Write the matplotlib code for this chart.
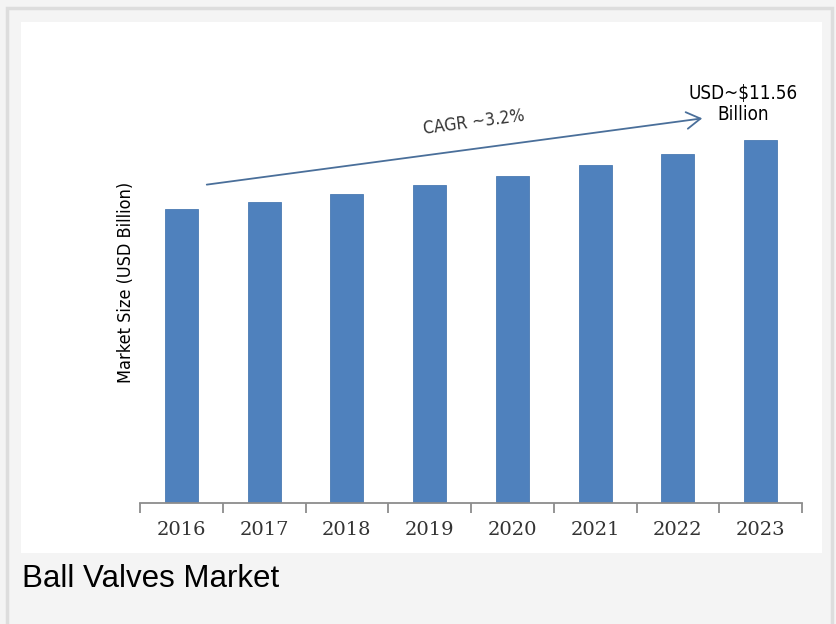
import matplotlib
matplotlib.use("Agg")
import matplotlib.pyplot as plt
from matplotlib.patches import Rectangle, FancyArrowPatch
from matplotlib import font_manager

years = ["2016", "2017", "2018", "2019", "2020", "2021", "2022", "2023"]
market_size = [9.36, 9.59, 9.84, 10.13, 10.41, 10.76, 11.12, 11.56]
cagr_label = "CAGR ~3.2%"
end_label = "USD~$11.56\nBillion"
y_label = "Market Size (USD Billion)"
caption = "Ball Valves Market"

names = {f.name for f in font_manager.fontManager.ttflist}
narrow = "Liberation Sans Narrow" if "Liberation Sans Narrow" in names else "DejaVu Sans"

W, H = 836, 624
fig = plt.figure(figsize=(W / 100, H / 100), dpi=100)
fig.patch.set_facecolor("#f4f4f4")

def fx(px):
    return px / W

def fy(py):
    return 1 - py / H

# outer border lines
fig.add_artist(Rectangle((fx(7), fy(640)), fx(832 - 7), fy(8) - fy(640),
                         transform=fig.transFigure, facecolor="#f4f4f4",
                         edgecolor="#dddddd", linewidth=2.5, zorder=-2))
# inner white panel
fig.add_artist(Rectangle((fx(21), fy(553)), fx(822 - 21), fy(22) - fy(553),
                         transform=fig.transFigure, facecolor="white",
                         edgecolor="none", zorder=-1))

ax_left, ax_right, ax_bottom, ax_top = 140, 802, 503, 60
ax = fig.add_axes([fx(ax_left), fy(ax_bottom), fx(ax_right - ax_left), fy(ax_top) - fy(ax_bottom)])
ax.set_zorder(2)
ax.set_facecolor("none")
ymax = market_size[-1] / (503 - 140) * (ax_bottom - ax_top)

x = list(range(len(years)))
ax.bar(x, market_size, width=0.4, color="#4f81bd", edgecolor="#4a7ab3", linewidth=0.6, zorder=2)
ax.set_xlim(-0.5, len(years) - 0.5)
ax.set_ylim(0, ymax)

for s in ["top", "right", "left"]:
    ax.spines[s].set_visible(False)
ax.spines["bottom"].set_color("#8c8c8c")
ax.spines["bottom"].set_linewidth(1.3)
ax.set_yticks([])
ax.set_xticks([i - 0.5 for i in range(len(years) + 1)], minor=False)
ax.set_xticklabels([])
ax.tick_params(axis="x", which="major", length=7, width=1.3, color="#8c8c8c", direction="out")
ax.set_xticks(x, minor=True)
ax.set_xticklabels(years, minor=True, fontsize=14, family="DejaVu Serif", color="#333333")
ax.tick_params(axis="x", which="minor", length=0, pad=13)

fig.text(fx(126), fy(282), y_label, rotation=90, ha="center", va="center",
         fontsize=13, family=narrow, stretch="condensed", color="black")

# CAGR arrow
fig.add_artist(FancyArrowPatch(
    (fx(204), fy(185)), (fx(705), fy(118)), transform=fig.transFigure,
    arrowstyle="->,head_length=10,head_width=6", color="#4a6f9a", lw=1.3,
    mutation_scale=1, zorder=3))
fig.text(fx(474), fy(122), cagr_label, rotation=7.5, ha="center", va="center",
         fontsize=12.5, family=narrow, stretch="condensed", color="#333333", rotation_mode="anchor")
fig.text(fx(743), fy(104), end_label, ha="center", va="center",
         fontsize=13.5, family=narrow, stretch="condensed", color="black", linespacing=1.2)

fig.text(fx(22), fy(579), caption, ha="left", va="center",
         fontsize=22.5, family="Liberation Sans", color="black")

fig.savefig("out.png", dpi=100, facecolor=fig.get_facecolor())
